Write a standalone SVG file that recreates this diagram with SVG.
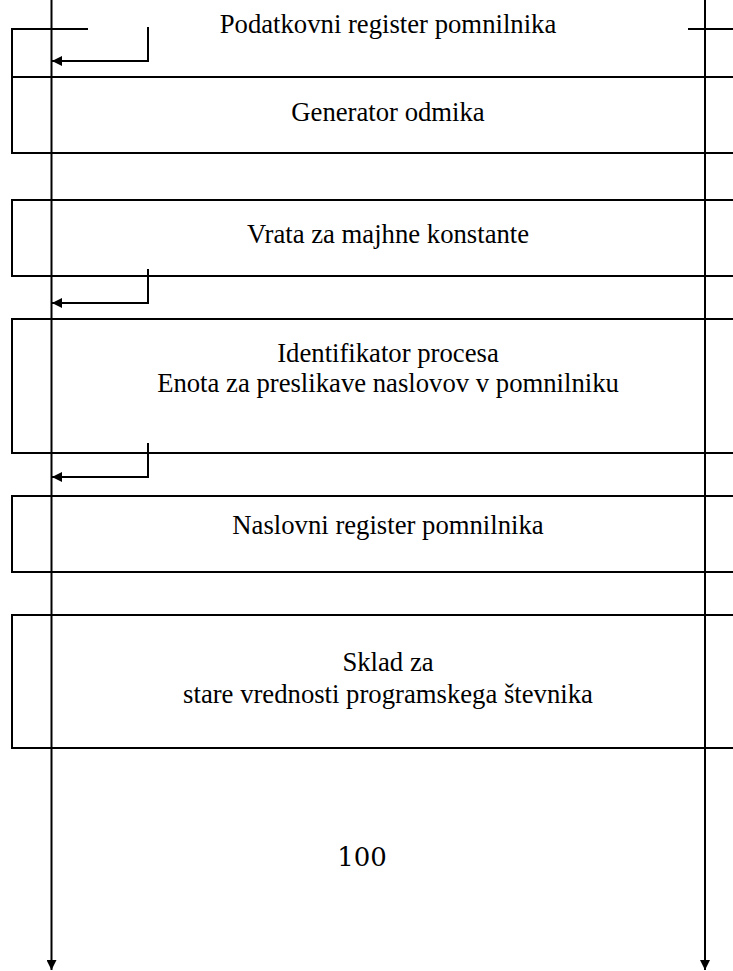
<svg xmlns="http://www.w3.org/2000/svg" width="733" height="971" viewBox="0 0 733 971">
  <style>
    .ln { stroke: #000; stroke-width: 2; fill: none; }
    .lbl { font-family: "Liberation Serif", "Times New Roman", serif; font-size: 26.7px; fill: #000; text-anchor: middle; }
    .num { font-family: "DejaVu Serif", serif; font-size: 26px; fill: #000; text-anchor: middle; }
  </style>
  <defs>
    <marker id="ah" viewBox="0 0 10 10" refX="10" refY="5" markerWidth="10" markerHeight="10" markerUnits="userSpaceOnUse" orient="auto">
      <path d="M0,0 L10,5 L0,10 Z" fill="#000"/>
    </marker>
  </defs>
  <rect width="733" height="971" fill="#fff"/>

  <!-- register blocks (open to the right edge) -->
  <g id="podatkovni-register">
    <path class="ln" d="M88,29 H12 V77 H733 M688,29 H733"/>
    <text class="lbl" x="388" y="33">Podatkovni register pomnilnika</text>
  </g>
  <g id="generator-odmika">
    <path class="ln" d="M12,77 V153 H733"/>
    <text class="lbl" x="388" y="121">Generator odmika</text>
  </g>
  <g id="vrata-konstante">
    <path class="ln" d="M733,200 H12 V276 H733"/>
    <text class="lbl" x="388" y="243">Vrata za majhne konstante</text>
  </g>
  <g id="identifikator-procesa">
    <path class="ln" d="M733,319 H12 V453 H733"/>
    <text class="lbl" x="388" y="362">Identifikator procesa</text>
    <text class="lbl" x="388" y="392">Enota za preslikave naslovov v pomnilniku</text>
  </g>
  <g id="naslovni-register">
    <path class="ln" d="M733,496 H12 V572 H733"/>
    <text class="lbl" x="388" y="534">Naslovni register pomnilnika</text>
  </g>
  <g id="sklad">
    <path class="ln" d="M733,615 H12 V748 H733"/>
    <text class="lbl" x="388" y="671">Sklad za</text>
    <text class="lbl" x="388" y="703">stare vrednosti programskega števnika</text>
  </g>
  <g id="oznaka">
    <text class="num" x="362" y="866">100</text>
  </g>

  <!-- buses and taps -->
  <g id="connectors">
    <path class="ln" d="M51.5,0 V970" marker-end="url(#ah)"/>
    <path class="ln" d="M705,0 V970" marker-end="url(#ah)"/>
    <path class="ln" d="M148,27 V61 H52" marker-end="url(#ah)"/>
    <path class="ln" d="M148,269 V303 H52" marker-end="url(#ah)"/>
    <path class="ln" d="M148,443 V477 H52" marker-end="url(#ah)"/>
  </g>
</svg>
